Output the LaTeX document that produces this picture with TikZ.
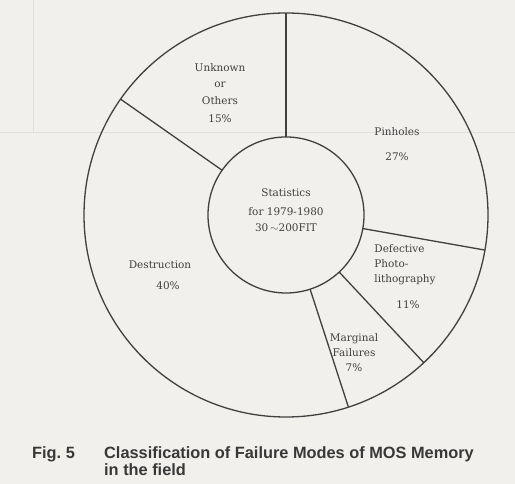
\documentclass[tikz,border=0pt]{standalone}
\usepackage{fontspec}
\newfontfamily\capfont{Liberation Sans}
\newfontfamily\chartfont{DejaVu Serif}
\usetikzlibrary{positioning}
\definecolor{paper}{RGB}{241,240,237}

\begin{document}
\begin{tikzpicture}[x=1bp, y=1bp,
    ring/.style={circle, draw=black!75, line width=1.3bp, inner sep=0pt, outer sep=0pt},
    divider/.style={draw=black!75, line width=1.3bp},
    wedge/.style={font=\chartfont\fontsize{10.5}{16}\selectfont, text=black!75, align=center, inner sep=0pt},
    caption/.style={font=\capfont\bfseries\fontsize{16.4}{16}\selectfont, text=black!78, inner sep=0pt}
]
\useasboundingbox[fill=paper] (0,0) rectangle (515,484);
% faint lines showing through from the back of the page
\draw[black!12, line width=1bp] (33,484) -- (33,351) (0,351) -- (515,351);

\node[ring, minimum size=404bp] (rim) at (286,269) {};
\node[ring, minimum size=156bp] (hub) at (286,269) {};
\foreach \a in {90,145,-10,-47,-72}
    \draw[divider] (hub.\a) -- (rim.\a);

\node[wedge] (stats) at (286,274) {Statistics\\[3bp]for 1979-1980\\30\,$\sim$200FIT};
\node[wedge, font=\chartfont\fontsize{10.5}{16.5}\selectfont] (unknown) at (220,391) {Unknown\\or\\Others\\[2bp]15\%};
\node[wedge] (pinholes) at (397,340) {Pinholes\\[9bp]27\%};
\node[wedge, align=left, font=\chartfont\fontsize{10.5}{15}\selectfont] (defect) at (405,219) {Defective\\Photo-\\lithography};
\node[wedge] (defectpct) at (408,179) {11\%};
\node[wedge, font=\chartfont\fontsize{10.5}{15}\selectfont] (marginal) at (354,131) {Marginal\\Failures\\7\%};
\node[wedge] (destr) at (160,219) {Destruction};
\node[wedge] (destrpct) at (168,198) {40\%};

\node[caption, anchor=base west] (figno) at (32,25) {Fig.\ 5};
\node[caption, anchor=base west] (capA) at (104,25) {Classification of Failure Modes of MOS Memory};
\node[caption, anchor=base west] (capB) at (104,8.5) {in the field};
\end{tikzpicture}
\end{document}
